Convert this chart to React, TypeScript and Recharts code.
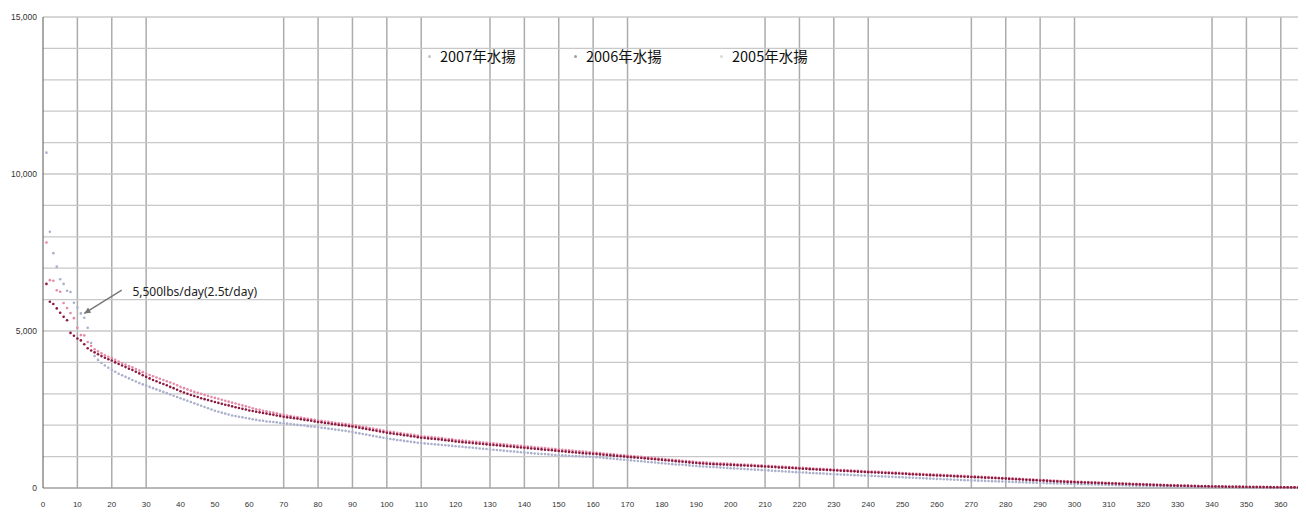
import {
  ScatterChart,
  Scatter,
  XAxis,
  YAxis,
  CartesianGrid,
  ReferenceLine,
  ReferenceDot,
} from 'recharts';

// daily landings, sorted from largest day to smallest (lbs/day)
const catch2007 = [
  7820, 6620, 6600, 6300, 6250, 5890, 5730, 5570, 5410, 5100,
  4870, 4860, 4650, 4520, 4420, 4350, 4290, 4230, 4180, 4140,
  4080, 4030, 3980, 3930, 3880, 3840, 3790, 3740, 3690, 3640,
  3600, 3560, 3520, 3480, 3440, 3400, 3360, 3320, 3270, 3220,
  3180, 3140, 3100, 3060, 3030, 3000, 2960, 2930, 2900, 2870,
  2840, 2810, 2780, 2750, 2720, 2690, 2660, 2630, 2600, 2570,
  2540, 2510, 2490, 2460, 2440, 2420, 2400, 2380, 2350, 2330,
  2310, 2290, 2270, 2260, 2240, 2220, 2200, 2190, 2170, 2150,
  2140, 2120, 2110, 2090, 2080, 2060, 2050, 2040, 2020, 2010,
  1990, 1970, 1950, 1930, 1910, 1890, 1870, 1850, 1830, 1810,
  1790, 1780, 1760, 1750, 1730, 1720, 1700, 1690, 1670, 1650,
  1640, 1630, 1620, 1610, 1600, 1590, 1570, 1560, 1550, 1530,
  1520, 1510, 1500, 1490, 1480, 1470, 1460, 1450, 1440, 1430,
  1420, 1410, 1400, 1390, 1380, 1370, 1360, 1350, 1340, 1330,
  1320, 1310, 1300, 1290, 1280, 1270, 1260, 1250, 1240, 1230,
  1220, 1210, 1200, 1190, 1180, 1170, 1160, 1150, 1140, 1130,
  1120, 1110, 1100, 1090, 1080, 1070, 1060, 1050, 1040, 1030,
  1020, 1010, 1000, 990, 980, 970, 960, 950, 940, 930,
  920, 910, 900, 890, 880, 870, 860, 850, 840, 830,
  820, 815, 810, 800, 795, 790, 785, 780, 775, 770,
  760, 755, 750, 745, 740, 735, 730, 725, 720, 710,
  705, 700, 690, 685, 680, 675, 670, 660, 655, 650,
  640, 635, 630, 620, 615, 610, 605, 600, 590, 585,
  580, 575, 570, 565, 560, 550, 545, 540, 535, 530,
  525, 520, 515, 510, 505, 500, 495, 490, 485, 480,
  470, 465, 460, 455, 450, 445, 440, 435, 430, 425,
  420, 415, 410, 405, 400, 395, 390, 385, 380, 375,
  370, 362, 355, 350, 345, 338, 330, 325, 320, 315,
  310, 305, 298, 290, 285, 280, 275, 270, 262, 255,
  250, 245, 240, 235, 230, 225, 220, 215, 210, 205,
  200, 195, 190, 186, 182, 178, 174, 170, 166, 162,
  158, 154, 150, 146, 142, 138, 134, 130, 126, 122,
  118, 114, 110, 106, 102, 98, 95, 92, 88, 85,
  82, 79, 76, 73, 70, 68, 66, 63, 61, 59,
  57, 55, 53, 51, 49, 47, 45, 44, 42, 40,
  39, 37, 36, 35, 33, 32, 31, 30, 28, 27,
  26, 25, 24, 22, 20,
];

const catch2006 = [
  6500, 5930, 5860, 5720, 5580, 5450, 5340, 4940, 4850, 4760,
  4700, 4580, 4450, 4380, 4320, 4260, 4200, 4150, 4100, 4060,
  4000, 3950, 3900, 3850, 3800, 3760, 3700, 3650, 3590, 3540,
  3490, 3440, 3400, 3350, 3310, 3270, 3220, 3180, 3130, 3080,
  3040, 3000, 2960, 2930, 2900, 2860, 2830, 2800, 2770, 2740,
  2710, 2680, 2650, 2630, 2600, 2570, 2550, 2520, 2500, 2470,
  2450, 2430, 2410, 2390, 2370, 2350, 2330, 2310, 2290, 2270,
  2250, 2240, 2220, 2210, 2190, 2170, 2160, 2140, 2120, 2100,
  2090, 2070, 2060, 2040, 2030, 2010, 2000, 1990, 1970, 1960,
  1940, 1920, 1900, 1880, 1860, 1840, 1820, 1800, 1780, 1760,
  1740, 1730, 1710, 1700, 1680, 1670, 1650, 1640, 1620, 1600,
  1590, 1580, 1570, 1560, 1550, 1540, 1520, 1510, 1500, 1480,
  1470, 1460, 1450, 1440, 1430, 1420, 1410, 1400, 1390, 1380,
  1370, 1360, 1350, 1340, 1330, 1320, 1310, 1300, 1290, 1280,
  1270, 1260, 1250, 1240, 1230, 1220, 1210, 1200, 1190, 1180,
  1170, 1160, 1150, 1140, 1130, 1120, 1110, 1100, 1095, 1090,
  1080, 1070, 1060, 1050, 1040, 1030, 1020, 1010, 1000, 990,
  980, 975, 965, 955, 945, 935, 925, 915, 905, 895,
  885, 875, 865, 855, 845, 835, 825, 815, 805, 795,
  785, 778, 770, 765, 760, 755, 750, 745, 740, 735,
  730, 725, 720, 715, 710, 705, 700, 695, 690, 685,
  675, 670, 665, 655, 650, 645, 640, 635, 630, 620,
  615, 610, 600, 595, 590, 585, 580, 575, 570, 565,
  555, 550, 545, 540, 535, 530, 520, 515, 510, 505,
  500, 495, 490, 485, 480, 475, 470, 465, 460, 455,
  450, 440, 435, 430, 425, 420, 415, 410, 405, 400,
  395, 390, 385, 380, 375, 370, 365, 360, 355, 350,
  345, 340, 335, 330, 325, 320, 315, 310, 305, 300,
  290, 285, 280, 275, 268, 260, 255, 250, 245, 240,
  235, 228, 222, 215, 210, 205, 200, 195, 192, 188,
  184, 180, 176, 172, 168, 164, 160, 156, 152, 148,
  144, 140, 136, 132, 128, 124, 120, 117, 114, 110,
  106, 102, 98, 95, 92, 88, 85, 82, 78, 75,
  72, 70, 67, 64, 61, 58, 56, 54, 52, 50,
  48, 46, 44, 42, 40, 39, 38, 36, 35, 34,
  33, 32, 31, 30, 29, 28, 27, 26, 25, 24,
  23, 22, 21, 20, 18,
];

const catch2005 = [
  10680, 8160, 7480, 7050, 6650, 6500, 6280, 6240, 5900, 5750,
  5560, 5420, 5100, 4620, 4200, 4080, 3980, 3900, 3830, 3760,
  3700, 3640, 3590, 3540, 3490, 3440, 3390, 3340, 3300, 3260,
  3220, 3180, 3140, 3100, 3060, 3020, 2980, 2940, 2900, 2860,
  2820, 2780, 2740, 2700, 2660, 2620, 2580, 2540, 2500, 2460,
  2430, 2400, 2370, 2340, 2310, 2290, 2270, 2250, 2230, 2210,
  2190, 2170, 2150, 2140, 2120, 2110, 2100, 2090, 2070, 2060,
  2050, 2040, 2020, 2010, 2000, 1990, 1970, 1960, 1950, 1940,
  1920, 1910, 1890, 1880, 1860, 1850, 1830, 1820, 1800, 1780,
  1760, 1740, 1720, 1700, 1680, 1660, 1640, 1620, 1600, 1580,
  1560, 1550, 1530, 1520, 1500, 1490, 1470, 1460, 1440, 1430,
  1420, 1410, 1400, 1390, 1380, 1370, 1360, 1350, 1340, 1330,
  1320, 1310, 1300, 1290, 1280, 1270, 1260, 1250, 1240, 1230,
  1220, 1210, 1200, 1190, 1180, 1170, 1160, 1150, 1140, 1130,
  1120, 1110, 1100, 1090, 1085, 1080, 1070, 1060, 1050, 1045,
  1040, 1030, 1025, 1020, 1015, 1010, 1005, 1000, 995, 990,
  980, 970, 960, 950, 940, 930, 920, 910, 900, 890,
  880, 870, 860, 850, 840, 830, 820, 810, 800, 790,
  780, 770, 760, 750, 745, 740, 730, 720, 710, 700,
  690, 685, 680, 670, 665, 660, 650, 645, 640, 630,
  625, 620, 610, 605, 600, 590, 585, 580, 570, 565,
  560, 550, 545, 540, 530, 525, 520, 510, 505, 500,
  495, 490, 480, 475, 470, 465, 460, 450, 445, 440,
  435, 430, 425, 420, 415, 410, 405, 400, 395, 390,
  385, 380, 375, 370, 365, 360, 355, 350, 345, 340,
  335, 330, 325, 320, 315, 310, 305, 300, 295, 290,
  285, 280, 275, 270, 265, 260, 255, 250, 246, 242,
  238, 234, 230, 226, 222, 218, 214, 210, 206, 202,
  198, 194, 190, 186, 182, 178, 174, 170, 166, 162,
  158, 154, 150, 147, 144, 141, 138, 135, 132, 129,
  126, 123, 120, 117, 114, 111, 108, 105, 102, 99,
  96, 93, 90, 87, 84, 81, 78, 75, 72, 70,
  68, 66, 64, 62, 60, 58, 56, 54, 52, 50,
  48, 46, 44, 42, 40, 38, 36, 35, 34, 33,
  32, 31, 30, 29, 28, 27, 26, 25, 24, 23,
  22, 21, 20, 19, 18, 17, 16, 15, 14, 13,
  12, 11, 10, 9, 8,
];

const xTicks = [
  0, 10, 20, 30, 40, 50, 60, 70, 80, 90, 100, 110, 120, 130, 140, 150, 160, 170, 180,
  190, 200, 210, 220, 230, 240, 250, 260, 270, 280, 290, 300, 310, 320, 330, 340, 350, 360,
];
const yTicks = [0, 5000, 10000, 15000];
const gridX = [10, 20, 30, 70, 80, 90, 100, 110, 130, 140, 150, 160, 170, 210, 220, 230, 240, 270, 280, 290, 300, 340, 350, 360];
const gridY = [1000, 2000, 3000, 4000, 5000, 6000, 7000, 8000, 9000, 10000, 11000, 12000, 13000, 14000, 15000];

const series = [
  { name: '2007年水揚', values: catch2007, color: '#e48aa6', legend: '#c4c4c4' },
  { name: '2006年水揚', values: catch2006, color: '#8c1a40', legend: '#a0a0a0' },
  { name: '2005年水揚', values: catch2005, color: '#aab0cc', legend: '#dadada' },
];

const toPoints = (vals: number[]) => vals.map((v, i) => ({ day: i + 1, v }));

const dot = (color: string) => (p: any) => <circle cx={p.cx} cy={p.cy} r={1.3} fill={color} />;

export default function App() {
  const drawOrder = [series[2], series[0], series[1]];
  return (
    <div style={{ position: 'relative', width: 1292, height: 504, background: '#fff', fontFamily: '"Liberation Sans", Arial, sans-serif' }}>
      <ScatterChart width={1292} height={504} margin={{ top: 9, right: 2, bottom: 0, left: 0 }}>
        <CartesianGrid horizontal={false} verticalValues={gridX} stroke="#acacac" strokeWidth={1.5} />
        <CartesianGrid vertical={false} horizontalValues={gridY} stroke="#c8c8c8" strokeWidth={1.3} />
        <XAxis
          type="number"
          dataKey="day"
          domain={[0, 363]}
          ticks={xTicks}
          interval={0}
          tickLine={false}
          tickSize={0}
          tickMargin={13}
          height={24}
          axisLine={{ stroke: '#a0a0a0', strokeWidth: 1.5 }}
          tick={{ fontSize: 8, fill: '#333' }}
        />
        <YAxis
          type="number"
          dataKey="v"
          domain={[0, 15000]}
          ticks={yTicks}
          interval={0}
          width={35}
          tickLine={false}
          tickSize={0}
          tickMargin={6}
          axisLine={{ stroke: '#555', strokeWidth: 1 }}
          tick={{ fontSize: 8.5, fill: '#333' }}
          tickFormatter={(v: number) => v.toLocaleString('en-US')}
        />
        {drawOrder.map((s) => (
          <Scatter
            key={s.name}
            name={s.name}
            data={toPoints(s.values)}
            fill={s.color}
            shape={dot(s.color)}
            isAnimationActive={false}
          />
        ))}
        <ReferenceLine
          segment={[{ x: 22.9, y: 6300 }, { x: 12, y: 5560 }]}
          shape={(p: any) => {
            const ang = Math.atan2(p.y2 - p.y1, p.x2 - p.x1);
            const a1 = ang + Math.PI - 0.45;
            const a2 = ang + Math.PI + 0.45;
            return (
              <g>
                <line x1={p.x1} y1={p.y1} x2={p.x2} y2={p.y2} stroke="#777" strokeWidth={1.4} />
                <polygon
                  points={`${p.x2},${p.y2} ${p.x2 + 7 * Math.cos(a1)},${p.y2 + 7 * Math.sin(a1)} ${p.x2 + 7 * Math.cos(a2)},${p.y2 + 7 * Math.sin(a2)}`}
                  fill="#777"
                />
              </g>
            );
          }}
        />
        <ReferenceDot
          x={26}
          y={6240}
          r={0}
          shape={(p: any) => (
            <text x={p.cx} y={p.cy} dy="0.35em" fontSize={12} fill="#222" fontFamily='"Noto Sans", sans-serif'>
              5,500lbs/day(2.5t/day)
            </text>
          )}
        />
      </ScatterChart>
      <div
        style={{
          position: 'absolute',
          top: 38,
          left: 414,
          display: 'flex',
          fontFamily: '"Noto Sans CJK JP", sans-serif',
          fontSize: 14.5,
          color: '#111',
        }}
      >
        {series.map((s) => (
          <div key={s.name} style={{ width: 146, display: 'flex', alignItems: 'center', lineHeight: '20px' }}>
            <span style={{ width: 3, height: 3, borderRadius: 2, background: s.legend, marginLeft: 6, marginRight: 9 }} />
            <span>{s.name}</span>
          </div>
        ))}
      </div>
    </div>
  );
}
